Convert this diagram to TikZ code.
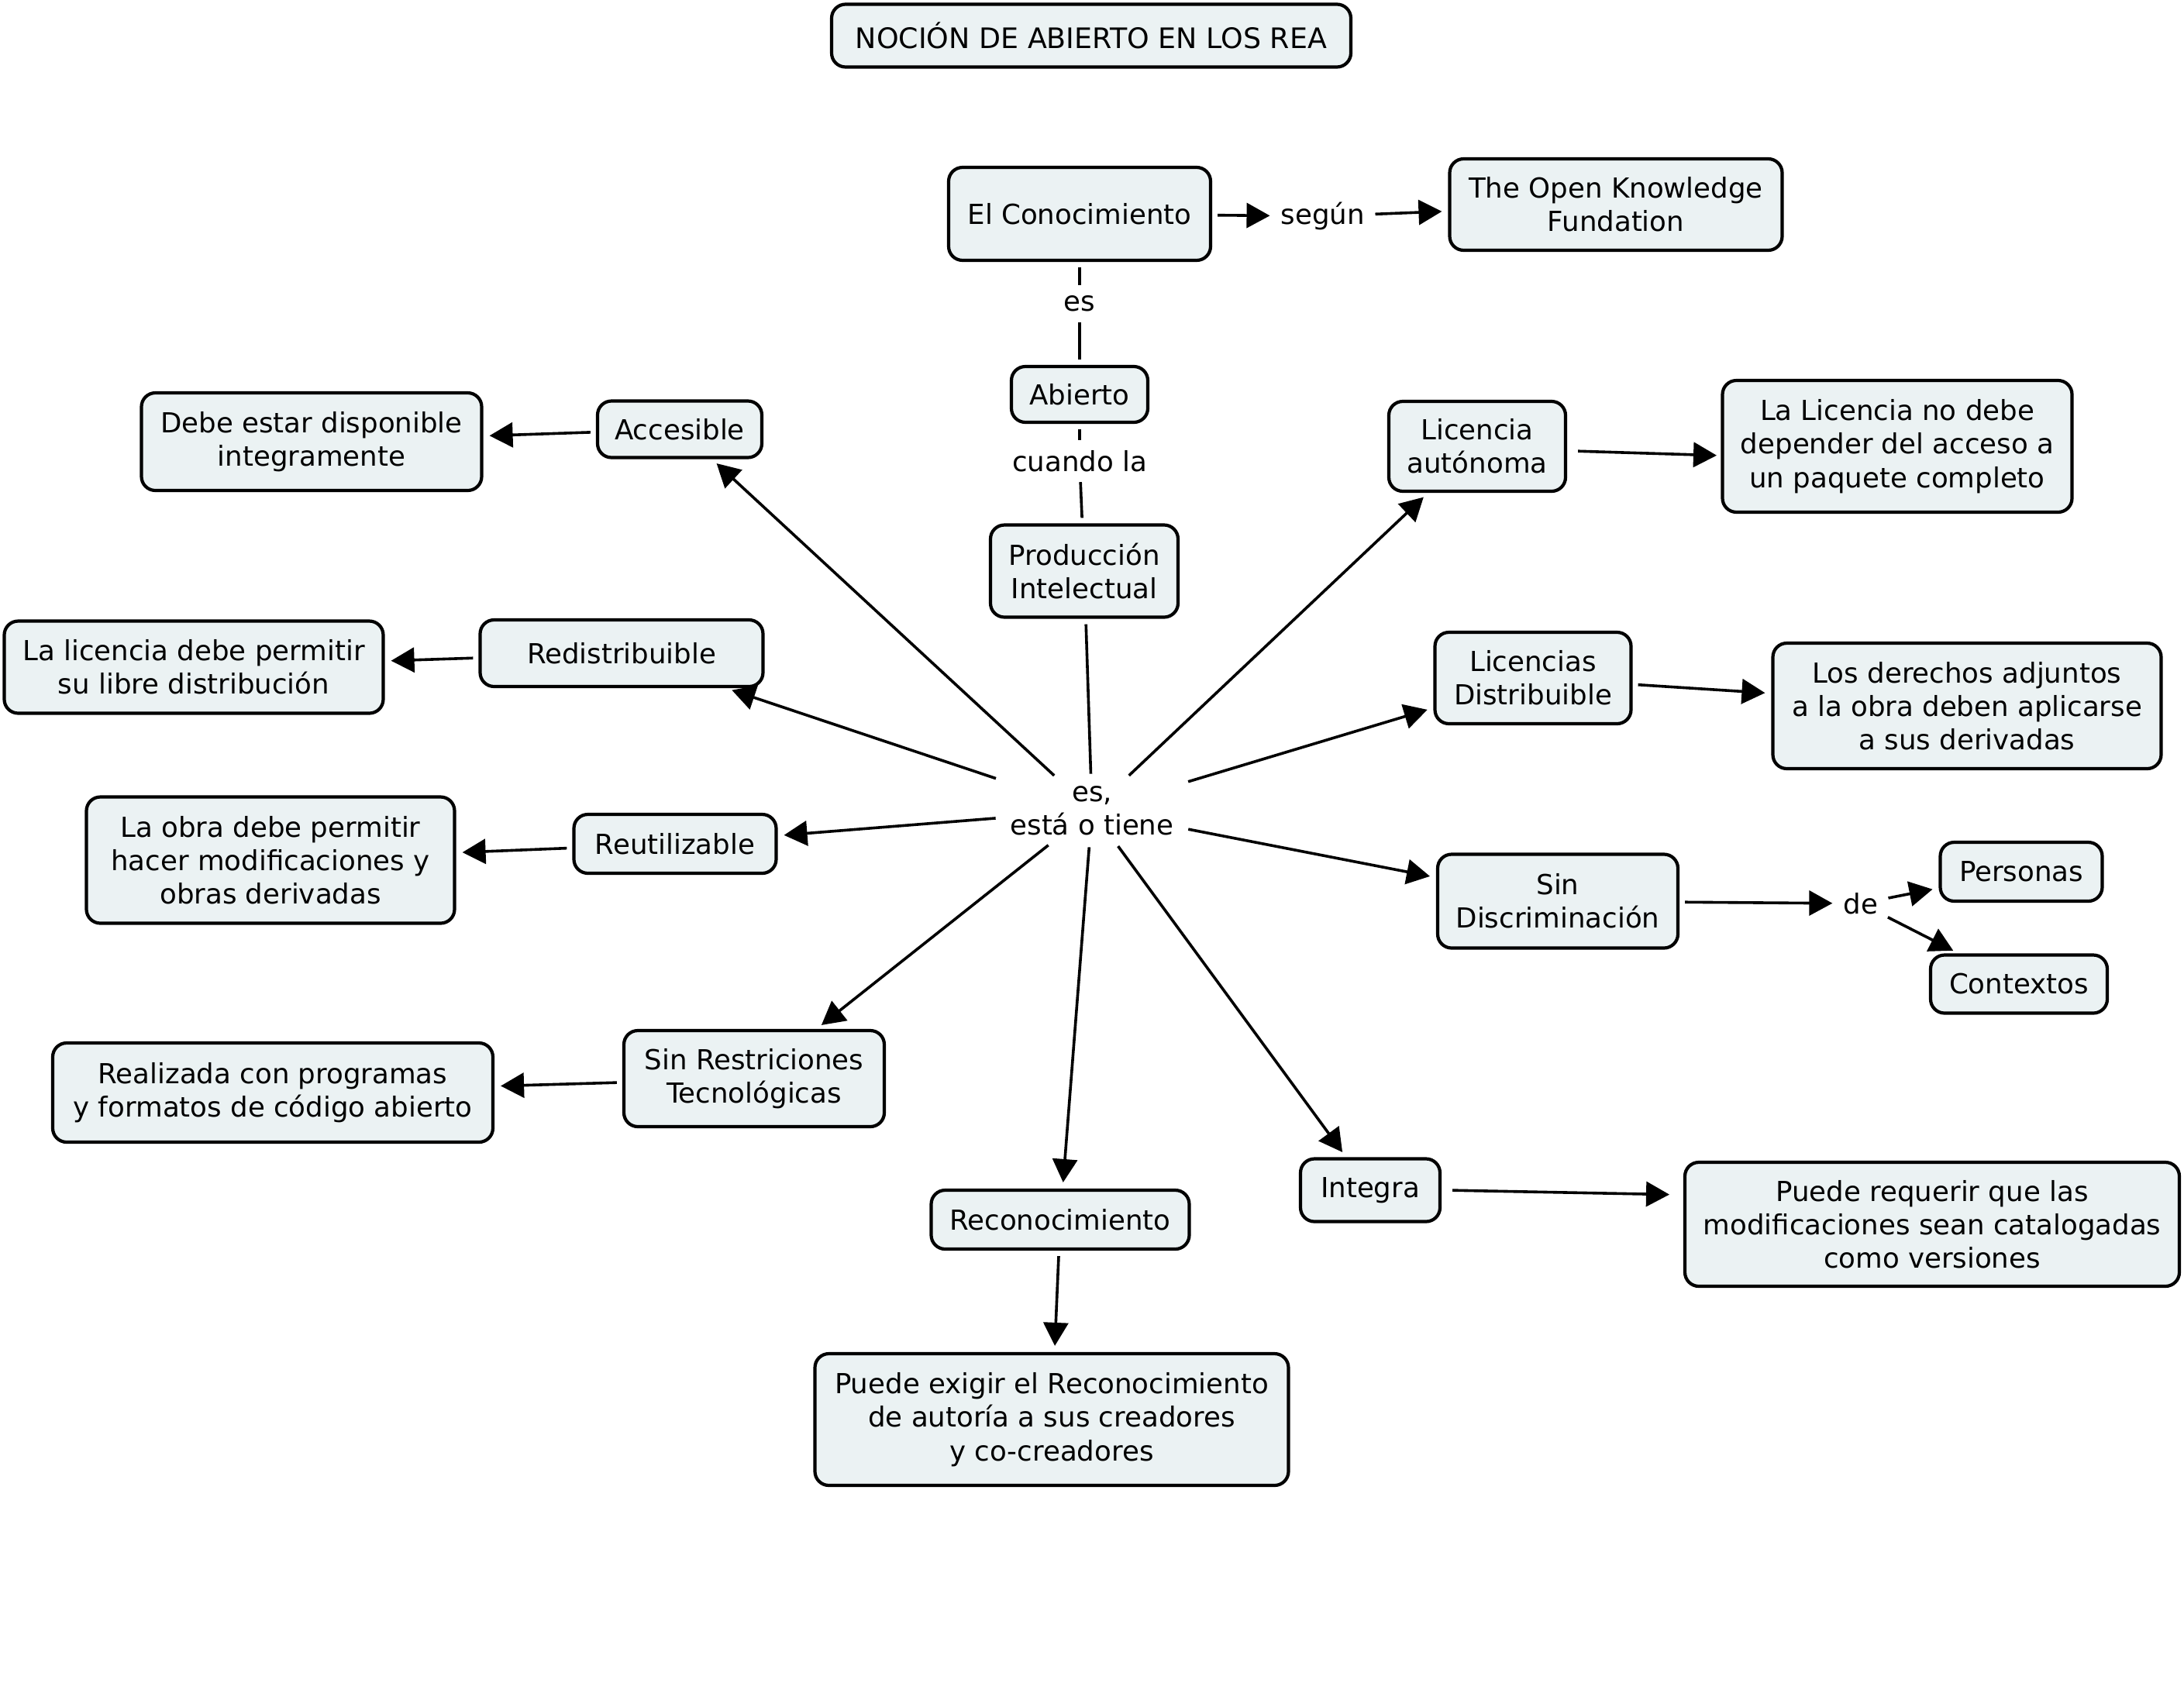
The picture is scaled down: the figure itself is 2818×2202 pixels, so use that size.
\documentclass[tikz,border=0pt]{standalone}
\usepackage{fontspec}
\setmainfont{DejaVu Sans}
\usetikzlibrary{arrows.meta}
\definecolor{boxfill}{RGB}{235,242,243}
\tikzset{
  cbox/.style={draw, line width=2.1pt, rounded corners=9pt, fill=boxfill, align=center, inner sep=0pt,
    font=\fontsize{17.8}{21.6}\selectfont},
  lbl/.style={align=center, inner sep=3pt, font=\fontsize{17.8}{21.6}\selectfont},
  arr/.style={-{Triangle[length=15pt,width=16pt]}, line width=1.8pt, shorten >=4pt, shorten <=3.5pt},
  ln/.style={line width=1.8pt, shorten >=3.5pt, shorten <=3.5pt}
}
\begin{document}
\begin{tikzpicture}[x=0.5pt,y=-0.5pt]
\useasboundingbox (0,0) rectangle (2818,2202);
% concepts
\node[cbox, minimum width=335pt, minimum height=40.5pt, font=\fontsize{18.2}{21.6}\selectfont] (title) at (1408,46) {NOCIÓN DE ABIERTO EN LOS REA};
\node[cbox, minimum width=169pt, minimum height=60pt] (ec) at (1393,276) {El Conocimiento};
\node[cbox, minimum width=214.5pt, minimum height=59pt] (okf) at (2085,264) {The Open Knowledge\\Fundation};
\node[cbox, minimum width=88pt, minimum height=36pt] (abierto) at (1393,509) {Abierto};
\node[cbox, minimum width=121pt, minimum height=59.5pt] (prod) at (1399,737) {Producción\\Intelectual};
\node[cbox, minimum width=106pt, minimum height=36.5pt] (acc) at (877,554) {Accesible};
\node[cbox, minimum width=219.5pt, minimum height=63pt] (debe) at (402,570) {Debe estar disponible\\integramente};
\node[cbox, minimum width=182.5pt, minimum height=43pt] (redis) at (802,843) {Redistribuible};
\node[cbox, minimum width=244.5pt, minimum height=59.5pt] (lalic) at (250,861) {La licencia debe permitir\\su libre distribución};
\node[cbox, minimum width=130.5pt, minimum height=38pt] (reut) at (871,1089) {Reutilizable};
\node[cbox, minimum width=237.5pt, minimum height=81.5pt] (obra) at (349,1110) {La obra debe permitir\\hacer modificaciones y\\obras derivadas};
\node[cbox, minimum width=168pt, minimum height=62pt] (sinres) at (973,1392) {Sin Restriciones\\Tecnológicas};
\node[cbox, minimum width=284pt, minimum height=64pt] (realiz) at (352,1410) {Realizada con programas\\y formatos de código abierto};
\node[cbox, minimum width=166.5pt, minimum height=38pt] (recon) at (1368,1574) {Reconocimiento};
\node[cbox, minimum width=305.5pt, minimum height=85pt] (exigir) at (1357,1832) {Puede exigir el Reconocimiento\\de autoría a sus creadores\\y co-creadores};
\node[cbox, minimum width=90pt, minimum height=40.5pt] (integra) at (1768,1536) {Integra};
\node[cbox, minimum width=319pt, minimum height=80pt] (requerir) at (2493,1580) {Puede requerir que las\\modificaciones sean catalogadas\\como versiones};
\node[cbox, minimum width=114pt, minimum height=58pt] (licaut) at (1906,576) {Licencia\\autónoma};
\node[cbox, minimum width=225.5pt, minimum height=85pt] (nodebe) at (2448,576) {La Licencia no debe\\depender del acceso a\\un paquete completo};
\node[cbox, minimum width=126.5pt, minimum height=59pt] (licdis) at (1978,875) {Licencias\\Distribuible};
\node[cbox, minimum width=250.5pt, minimum height=81pt] (derechos) at (2538,911) {Los derechos adjuntos\\a la obra deben aplicarse\\a sus derivadas};
\node[cbox, minimum width=155pt, minimum height=60.5pt] (sindis) at (2010,1163) {Sin\\Discriminación};
\node[cbox, minimum width=104.5pt, minimum height=38pt] (personas) at (2608,1125) {Personas};
\node[cbox, minimum width=114pt, minimum height=37.5pt] (contextos) at (2605,1270) {Contextos};
% linking phrases
\node[lbl] (segun) at (1707,279) {según};
\node[lbl] (es) at (1393,392) {es};
\node[lbl] (cuando) at (1393,595) {cuando la};
\node[lbl, inner sep=1pt, minimum width=117pt, minimum height=40pt] (center) at (1409,1046) {es,\\está o tiene};
\node[lbl] (de) at (2401,1166) {de};
\coordinate (reqin) at (2174,1542);
\coordinate (nodebein) at (2223,588);
% connectors
\draw[arr] (ec) -- (segun);
\draw[arr] (segun) -- (okf);
\draw[ln] (ec) -- (es);
\draw[ln] (es) -- (abierto);
\draw[ln] (abierto) -- (cuando);
\draw[ln] (cuando) -- (prod);
\draw[ln] (prod) -- (center);
\draw[arr] (center) -- (acc);
\draw[arr] (center) -- (redis);
\draw[arr] (center) -- (reut);
\draw[arr] (center) -- (sinres);
\draw[arr] (center) -- (recon);
\draw[arr] (center) -- (integra);
\draw[arr] (center) -- (sindis);
\draw[arr] (center) -- (licdis);
\draw[arr] (center) -- (licaut);
\draw[arr] (acc) -- (debe);
\draw[arr] (redis) -- (lalic);
\draw[arr] (reut) -- (obra);
\draw[arr] (sinres) -- (realiz);
\draw[arr] (recon) -- (exigir);
\draw[arr, shorten >=10pt] (integra.east |- reqin) ++(7,-6) -- (reqin);
\draw[arr] (licaut.east) ++(7,6) -- (nodebein);
\draw[arr] (licdis) -- (derechos);
\draw[arr] (sindis) -- (de);
\draw[arr] (de) -- (personas);
\draw[arr] (de) -- (contextos);
\end{tikzpicture}
\end{document}
